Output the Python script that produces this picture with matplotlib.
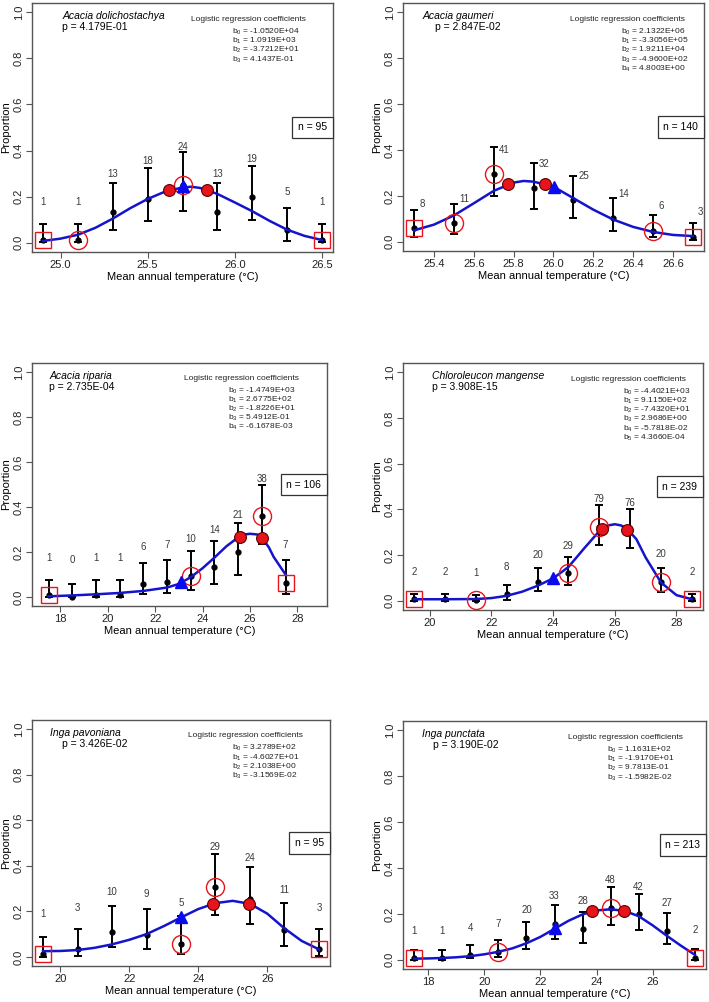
import numpy as np
import matplotlib.pyplot as plt
from matplotlib.offsetbox import AnchoredText

plt.rcParams['font.family'] = ['Liberation Sans', 'DejaVu Sans']
plt.rcParams['mathtext.fontset'] = 'custom'
plt.rcParams['mathtext.rm'] = 'Liberation Sans'
plt.rcParams['mathtext.it'] = 'Liberation Sans:italic'

# ---------------- data ----------------
species = ['Acacia dolichostachya', 'Acacia gaumeri', 'Acacia riparia',
           'Chloroleucon mangense', 'Inga pavoniana', 'Inga punctata']
p_values = ['4.179E-01', '2.847E-02', '2.735E-04', '3.908E-15', '3.426E-02', '3.190E-02']
n_total = [95, 140, 106, 239, 95, 213]
coefs = [
    ['-1.0520E+04', '1.0919E+03', '-3.7212E+01', '4.1437E-01'],
    ['2.1322E+06', '-3.3056E+05', '1.9211E+04', '-4.9600E+02', '4.8003E+00'],
    ['-1.4749E+03', '2.6775E+02', '-1.8226E+01', '5.4912E-01', '-6.1678E-03'],
    ['-4.4021E+03', '9.1150E+02', '-7.4320E+01', '2.9686E+00', '-5.7818E-02', '4.3660E-04'],
    ['3.2789E+02', '-4.6027E+01', '2.1038E+00', '-3.1569E-02'],
    ['1.1631E+02', '-1.9170E+01', '9.7813E-01', '-1.5982E-02'],
]

# Acacia dolichostachya
t1 = [24.9, 25.1, 25.3, 25.5, 25.7, 25.9, 26.1, 26.3, 26.5]
p1 = [0.01, 0.01, 0.135, 0.19, 0.25, 0.135, 0.2, 0.055, 0.01]
lo1 = [0.005, 0.005, 0.057, 0.094, 0.14, 0.057, 0.1, 0.009, 0.005]
hi1 = [0.08, 0.08, 0.26, 0.323, 0.395, 0.26, 0.335, 0.15, 0.08]
n1 = [1, 1, 13, 18, 24, 13, 19, 5, 1]
cx1 = [24.9, 25.0, 25.1, 25.2, 25.3, 25.4, 25.5, 25.6, 25.7, 25.75, 25.8, 25.9, 26.0, 26.1, 26.2, 26.3, 26.4, 26.5]
cy1 = [0.008, 0.018, 0.035, 0.065, 0.105, 0.15, 0.19, 0.222, 0.24, 0.243, 0.238, 0.212, 0.175, 0.137, 0.095, 0.057, 0.03, 0.012]
opt_x1, opt_y1 = [25.62, 25.84], [0.228, 0.228]
tri1 = (25.7, 0.245)
circ1 = [25.1, 25.7]

# Acacia gaumeri
t2 = [25.3, 25.5, 25.7, 25.9, 26.1, 26.3, 26.5, 26.7]
p2 = [0.06, 0.081, 0.297, 0.234, 0.183, 0.103, 0.049, 0.023]
lo2 = [0.02, 0.033, 0.198, 0.142, 0.103, 0.049, 0.02, 0.009]
hi2 = [0.137, 0.166, 0.414, 0.343, 0.288, 0.19, 0.118, 0.084]
n2 = [8, 11, 41, 32, 25, 14, 6, 3]
cx2 = [25.3, 25.4, 25.5, 25.6, 25.7, 25.8, 25.85, 25.9, 26.0, 26.1, 26.2, 26.3, 26.4, 26.5, 26.6, 26.7]
cy2 = [0.05, 0.075, 0.115, 0.168, 0.222, 0.258, 0.265, 0.262, 0.24, 0.19, 0.14, 0.097, 0.065, 0.043, 0.03, 0.025]
opt_x2, opt_y2 = [25.77, 25.955], [0.253, 0.253]
tri2 = (26.0, 0.24)
circ2 = [25.5, 25.7, 26.5]

# Acacia riparia
t3 = [17.5, 18.5, 19.5, 20.5, 21.5, 22.5, 23.5, 24.5, 25.5, 26.5, 27.5]
p3 = [0.007, 0.0, 0.007, 0.007, 0.056, 0.065, 0.092, 0.133, 0.2, 0.358, 0.064]
lo3 = [0.0, 0.0, 0.0, 0.0, 0.012, 0.018, 0.033, 0.056, 0.1, 0.237, 0.015]
hi3 = [0.077, 0.059, 0.077, 0.077, 0.153, 0.166, 0.204, 0.249, 0.329, 0.5, 0.166]
n3 = [1, 0, 1, 1, 6, 7, 10, 14, 21, 38, 7]
cx3 = [17.5, 18.5, 19.5, 20.5, 21.5, 22.5, 23.0, 23.5, 24.0, 24.5, 25.0, 25.5, 25.8, 26.0, 26.3, 26.5, 26.8, 27.0, 27.5]
cy3 = [0.003, 0.007, 0.012, 0.018, 0.027, 0.042, 0.058, 0.088, 0.128, 0.175, 0.225, 0.265, 0.278, 0.281, 0.278, 0.265, 0.22, 0.178, 0.1]
opt_x3, opt_y3 = [25.56, 26.5], [0.267, 0.262]
tri3 = (23.07, 0.065)
circ3 = [23.5, 26.5]

# Chloroleucon mangense
t4 = [19.5, 20.5, 21.5, 22.5, 23.5, 24.5, 25.5, 26.5, 27.5, 28.5]
p4 = [0.007, 0.007, 0.003, 0.029, 0.082, 0.12, 0.325, 0.31, 0.083, 0.007]
lo4 = [0.0, 0.0, 0.0, 0.005, 0.041, 0.07, 0.243, 0.23, 0.04, 0.0]
hi4 = [0.032, 0.032, 0.026, 0.07, 0.145, 0.19, 0.42, 0.4, 0.145, 0.032]
n4 = [2, 2, 1, 8, 20, 29, 79, 76, 20, 2]
cx4 = [19.5, 20.5, 21.5, 22.0, 22.5, 23.0, 23.5, 24.0, 24.5, 25.0, 25.5, 25.8, 26.0, 26.2, 26.4, 26.7, 27.0, 27.5, 28.0, 28.5]
cy4 = [0.007, 0.007, 0.008, 0.012, 0.022, 0.04, 0.066, 0.098, 0.148, 0.228, 0.305, 0.33, 0.335, 0.33, 0.315, 0.27, 0.19, 0.08, 0.025, 0.007]
opt_x4, opt_y4 = [25.6, 26.39], [0.313, 0.31]
tri4 = (24.0, 0.098)
circ4 = [21.5, 24.5, 25.5, 27.5]

# Inga pavoniana
t5 = [19.5, 20.5, 21.5, 22.5, 23.5, 24.5, 25.5, 26.5, 27.5]
p5 = [0.012, 0.036, 0.108, 0.097, 0.057, 0.306, 0.255, 0.117, 0.035]
lo5 = [0.0, 0.004, 0.044, 0.033, 0.013, 0.185, 0.145, 0.047, 0.004]
hi5 = [0.086, 0.123, 0.222, 0.212, 0.178, 0.452, 0.394, 0.236, 0.123]
n5 = [1, 3, 10, 9, 5, 29, 24, 11, 3]
cx5 = [19.5, 20.0, 20.5, 21.0, 21.5, 22.0, 22.5, 23.0, 23.5, 24.0, 24.5, 25.0, 25.5, 26.0, 26.5, 27.0, 27.5]
cy5 = [0.025, 0.026, 0.03, 0.04, 0.055, 0.075, 0.1, 0.135, 0.173, 0.21, 0.236, 0.246, 0.233, 0.19, 0.125, 0.07, 0.033]
opt_x5, opt_y5 = [24.44, 25.48], [0.233, 0.233]
tri5 = (23.5, 0.175)
circ5 = [23.5, 24.5]

# Inga punctata
t6 = [17.5, 18.5, 19.5, 20.5, 21.5, 22.5, 23.5, 24.5, 25.5, 26.5, 27.5]
p6 = [0.006, 0.006, 0.02, 0.035, 0.097, 0.157, 0.136, 0.227, 0.198, 0.127, 0.008]
lo6 = [0.0, 0.0, 0.006, 0.013, 0.049, 0.092, 0.075, 0.152, 0.129, 0.071, 0.0]
hi6 = [0.042, 0.042, 0.065, 0.085, 0.166, 0.238, 0.21, 0.316, 0.285, 0.205, 0.046]
n6 = [1, 1, 4, 7, 20, 33, 28, 48, 42, 27, 2]
cx6 = [17.5, 18.0, 18.5, 19.0, 19.5, 20.0, 20.5, 21.0, 21.5, 22.0, 22.5, 23.0, 23.5, 24.0, 24.5, 25.0, 25.5, 26.0, 26.5, 27.0, 27.5]
cy6 = [0.005, 0.006, 0.008, 0.011, 0.016, 0.024, 0.035, 0.05, 0.072, 0.1, 0.135, 0.17, 0.198, 0.215, 0.22, 0.213, 0.19, 0.15, 0.105, 0.062, 0.022]
opt_x6, opt_y6 = [23.85, 24.97], [0.212, 0.212]
tri6 = (22.5, 0.14)
circ6 = [20.5, 24.5]

panels = [
    (t1, p1, lo1, hi1, n1, cx1, cy1, opt_x1, opt_y1, tri1, circ1),
    (t2, p2, lo2, hi2, n2, cx2, cy2, opt_x2, opt_y2, tri2, circ2),
    (t3, p3, lo3, hi3, n3, cx3, cy3, opt_x3, opt_y3, tri3, circ3),
    (t4, p4, lo4, hi4, n4, cx4, cy4, opt_x4, opt_y4, tri4, circ4),
    (t5, p5, lo5, hi5, n5, cx5, cy5, opt_x5, opt_y5, tri5, circ5),
    (t6, p6, lo6, hi6, n6, cx6, cy6, opt_x6, opt_y6, tri6, circ6),
]

# ---------------- layout / style ----------------
W, H = 709, 1002
# axes boxes in pixels: left, top, right, bottom
boxes = [(32, 3, 333, 252), (403, 3, 704, 251),
         (32, 363, 327, 606), (403, 363, 703, 610),
         (32, 720, 330, 966), (403, 721, 706, 969)]
xlims = [(24.836, 26.564), (25.244, 26.756), (16.8, 29.25),
         (19.14, 28.86), (19.18, 27.82), (17.1, 27.9)]
xticks = [[25.0, 25.5, 26.0, 26.5], np.arange(25.4, 26.61, 0.2),
          [18, 20, 22, 24, 26, 28], [20, 22, 24, 26, 28],
          [20, 22, 24, 26], [18, 20, 22, 24, 26]]
xfmt = ['%.1f', '%.1f', '%d', '%d', '%d', '%d']
label_off = [0.165, 0.105, 0.165, 0.12, 0.178, 0.12]
label_dx = [0, 0.025, 0, 0, 0, 0]
# text x positions (axes fraction): species, p, coef title (center), coef lines
txt_x = [(0.10, 0.10, 0.718, 0.664), (0.066, 0.106, 0.744, 0.724),
         (0.058, 0.058, 0.71, 0.665), (0.097, 0.097, 0.753, 0.733),
         (0.06, 0.10, 0.715, 0.67), (0.063, 0.10, 0.733, 0.673)]

frame_col = '#555555'
red = '#E8141B'
blue = '#1414CC'

fig = plt.figure(figsize=(W / 100, H / 100), dpi=100)

for i, (t, p, lo, hi, n, cx, cy, ox, oy, tri, circ) in enumerate(panels):
    l, tp, r, b = boxes[i]
    ax = fig.add_axes([l / W, 1 - b / H, (r - l) / W, (b - tp) / H])
    t = np.array(t)
    p = np.array(p)
    yerr = [p - np.array(lo), np.array(hi) - p]

    ax.errorbar(t, p, yerr=yerr, fmt='o', color='black', ms=3.5,
                elinewidth=1.4, capsize=3, capthick=1.4, zorder=2)
    ax.plot(cx, cy, color=blue, lw=1.8, zorder=3)

    for k in range(len(t)):
        ax.text(t[k] + label_dx[i], p[k] + label_off[i], str(n[k]),
                ha='left' if label_dx[i] else 'center', va='center',
                fontsize=7, color='#3a3a3a', zorder=5)

    ci = [list(t).index(v) for v in circ]
    ax.plot(t[ci], p[ci], 'o', ms=13, mfc='none', mec=red, mew=1.0, zorder=4)
    ends = [0, len(t) - 1]
    ax.plot(t[ends], p[ends], 's', ms=12, mfc='none', mec=red, mew=1.0, zorder=4)
    ax.plot(ox, oy, 'o', ms=8.5, mfc=red, mec='#5a0000', mew=0.8, zorder=6)
    ax.plot(tri[0], tri[1], '^', ms=8.5, color='#0A0AEE', zorder=7)

    ax.set_xlim(*xlims[i])
    ax.set_ylim(-0.04, 1.04)
    ax.set_xticks(xticks[i])
    ax.set_xticklabels([xfmt[i] % v for v in xticks[i]])
    ax.set_yticks([0.0, 0.2, 0.4, 0.6, 0.8, 1.0])
    ax.set_yticklabels(['0.0', '0.2', '0.4', '0.6', '0.8', '1.0'],
                       rotation=90, va='center')
    ax.tick_params(direction='out', length=4, width=0.8, color=frame_col,
                   labelsize=8, labelcolor='#222222', pad=2)
    for s in ax.spines.values():
        s.set_color(frame_col)
        s.set_linewidth(1.0)
    ax.set_xlabel('Mean annual temperature (\u00b0C)', fontsize=8, labelpad=1)
    ax.set_ylabel('Proportion', fontsize=8, labelpad=2)

    sx, px, ctx, cxx = txt_x[i]
    ax.text(sx, 0.947, species[i], transform=ax.transAxes, fontsize=7.5,
            style='italic', va='center', ha='left')
    ax.text(px, 0.902, 'p = ' + p_values[i], transform=ax.transAxes,
            fontsize=7.5, va='center', ha='left')
    ax.text(ctx, 0.935, 'Logistic regression coefficients',
            transform=ax.transAxes, fontsize=6, va='center', ha='center',
            color='#222222')
    for j, c in enumerate(coefs[i]):
        ax.text(cxx, 0.885 - 0.0375 * j, r'b$_%d$ = %s' % (j, c),
                transform=ax.transAxes, fontsize=6, va='center', ha='left',
                color='#222222')

    nbox = AnchoredText('n = %d' % n_total[i], loc='center right',
                        frameon=True, borderpad=0, pad=0.55,
                        prop=dict(size=7.5))
    nbox.patch.set_edgecolor('#333333')
    nbox.patch.set_linewidth(0.9)
    ax.add_artist(nbox)

fig.savefig('out.png', dpi=100, facecolor='white')
